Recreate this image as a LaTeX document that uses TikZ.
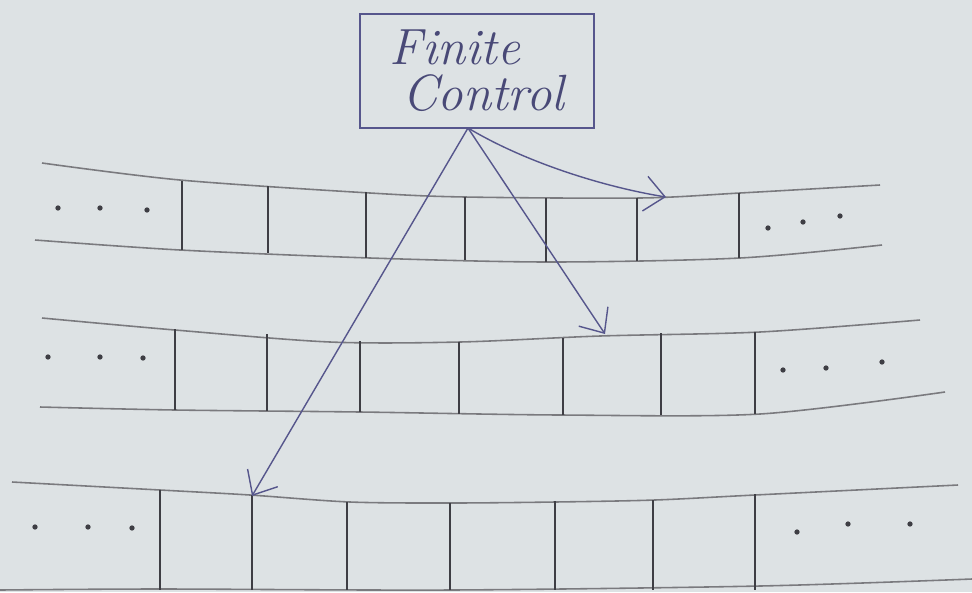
\documentclass[tikz,border=0pt]{standalone}
\usetikzlibrary{arrows.meta}
\definecolor{paper}{HTML}{DDE2E4}
\definecolor{pencil}{HTML}{7A7A7E}
\definecolor{lead}{HTML}{3E3E44}
\definecolor{ink}{HTML}{56568C}
\tikzset{
  tapeedge/.style={pencil, line width=0.9pt},
  cellwall/.style={lead, line width=0.8pt},
  dotmark/.style={circle, fill=lead, inner sep=0pt, minimum size=3pt},
  pen/.style={ink, line width=0.8pt},
  headarrow/.style={pen, -{Straight Barb[length=4mm,width=7mm]}},
}
\begin{document}
\begin{tikzpicture}[x=0.02cm,y=-0.02cm]
\fill[paper] (0,0) rectangle (972,592);
\useasboundingbox (0,0) rectangle (972,592);

% Finite control
\node[draw=ink, line width=0.9pt, minimum width=4.68cm, minimum height=2.28cm,
      align=left, font=\itshape\fontsize{29}{26}\selectfont, text=ink!85!black]
  (fc) at (477,71) {Finite\\\hspace*{0.25cm}Control};

% Tape 1
\draw[tapeedge] plot[smooth] coordinates {(42,163) (180,180) (370,193) (465,197) (640,198) (740,193) (880,185)};
\draw[tapeedge] plot[smooth] coordinates {(35,240) (180,250) (370,258) (550,262) (740,258) (882,245)};
\foreach \x/\a/\b in {182/181/250, 268/186/253, 366/192/258, 465/197/260, 546/198/262, 637/198/261, 739/193/258}
  \draw[cellwall] (\x,\a) -- (\x,\b);
\foreach \x/\y in {58/208, 100/208, 147/210, 768/228, 803/222, 840/216}
  \node[dotmark] at (\x,\y) {};

% Tape 2
\draw[tapeedge] plot[smooth] coordinates {(42,318) (175,330) (330,342) (460,342) (600,336) (760,332) (920,320)};
\draw[tapeedge] plot[smooth] coordinates {(40,407) (175,410) (360,412) (560,415) (760,414) (945,392)};
\foreach \x/\a/\b in {175/329/410, 267/334/411, 360/341/412, 459/342/414, 563/338/415, 661/333/415, 755/332/414}
  \draw[cellwall] (\x,\a) -- (\x,\b);
\foreach \x/\y in {48/357, 100/357, 143/358, 783/370, 826/368, 882/362}
  \node[dotmark] at (\x,\y) {};

% Tape 3
\draw[tapeedge] plot[smooth] coordinates {(12,482) (160,490) (250,495) (350,502) (450,503) (555,502) (655,500) (755,495) (958,485)};
\draw[tapeedge] plot[smooth] coordinates {(0,590) (160,589) (450,590) (760,586) (972,579)};
\foreach \x/\a in {160/490, 252/495, 347/502, 450/503, 555/501, 653/500, 755/494}
  \draw[cellwall] (\x,\a) -- (\x,590);
\foreach \x/\y in {35/527, 88/527, 132/528, 797/532, 848/524, 910/524}
  \node[dotmark] at (\x,\y) {};

% Heads
\coordinate (o) at (468,128);
\coordinate (h1) at (666,197);
\coordinate (h2) at (605,334);
\coordinate (h3) at (252,496);
\draw[headarrow] (o) .. controls (530,165) and (610,188) .. (h1);
\draw[headarrow] (o) -- (h2);
\draw[headarrow] (o) -- (h3);
\end{tikzpicture}
\end{document}
